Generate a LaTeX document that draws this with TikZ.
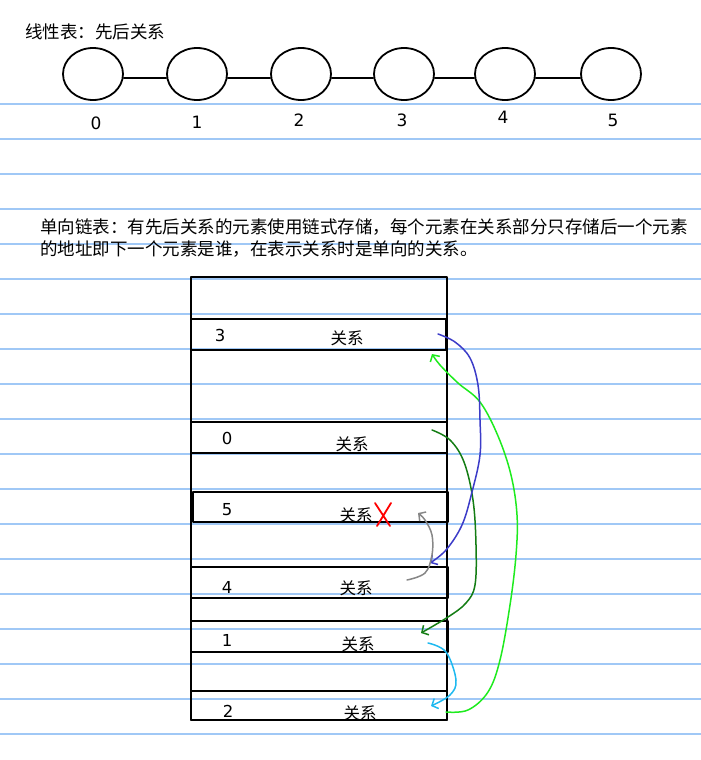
\documentclass[tikz,border=0pt]{standalone}
\usepackage{fontspec}
\setmainfont{DejaVu Sans}
\newfontfamily\cjk{Noto Sans CJK SC}
\usetikzlibrary{arrows.meta,shapes.geometric,positioning}
\definecolor{paperblue}{RGB}{160,200,246}
\definecolor{linkblue}{RGB}{60,60,200}
\definecolor{linkdkgreen}{RGB}{20,125,20}
\definecolor{linkcyan}{RGB}{30,185,240}
\definecolor{linkgreen}{RGB}{30,235,30}
\definecolor{linkgray}{RGB}{135,135,135}
\tikzset{
  elem/.style={draw, ellipse, line width=1.8pt, minimum width=60pt, minimum height=52pt, inner sep=0pt},
  cell/.style={draw, line width=2pt, inner sep=0pt},
  idx/.style={font=\fontsize{16.5}{18}\selectfont, inner sep=0pt},
  rel/.style={font=\cjk\fontsize{16.5}{18}\selectfont, inner sep=0pt},
  words/.style={font=\cjk\fontsize{17.5}{20}\selectfont, inner sep=0pt, anchor=west},
  hand/.style={line width=1.5pt, -{Straight Barb[length=5pt,width=11pt]}},
}
\begin{document}
\begin{tikzpicture}[x=1pt,y=-1pt,line cap=round,line join=round]
  \useasboundingbox (0,0) rectangle (701,760);
  % ruled paper
  \foreach \r in {104,139,...,734}
    \draw [paperblue, line width=1.1pt] (0,\r) -- (701,\r);

  % linear list
  \node[words] (title) at (25,32) {线性表：先后关系};
  \foreach \i/\x in {0/93,1/197,2/301,3/404,4/505,5/611}
    \node[elem] (c\i) at (\x,74) {};
  \foreach \i/\j in {0/1,1/2,2/3,3/4,4/5}
    \draw [line width=1.8pt] ([yshift=-4pt]c\i.east) -- ([yshift=-4pt]c\j.west);
  \foreach \i/\x/\y in {0/96/123,1/197/122,2/299/120,3/402/120,4/503/117,5/613/120}
    \node[idx, font=\fontsize{17}{19}\selectfont] (n\i) at (\x,\y) {\i};

  % description
  \node[words] (line1) at (40,227) {单向链表：有先后关系的元素使用链式存储，每个元素在关系部分只存储后一个元素};
  \node[words] (line2) at (40,249) {的地址即下一个元素是谁，在表示关系时是单向的关系。};

  % memory
  \node[cell, minimum width=256pt, minimum height=443pt] (mem) at (318.5,498.5) {};
  \foreach \k/\cx/\cy/\w/\h in {3/318/334.5/255/31, 0/318.5/437.5/256/31, 5/320.5/507/255/30,
                                4/319.5/582.5/257/31, 1/319.5/636.5/257/31, 2/318.5/705.5/256/29}
    \node[cell, minimum width=\w pt, minimum height=\h pt] (b\k) at (\cx,\cy) {};
  \foreach \k/\nx/\ny/\rx/\ry in {3/220/335/347/338, 0/227/438/352/444, 5/227/510/356/515,
                                  4/227/587/356/588, 1/227/640/358/644, 2/228/711/360/713}
  {
    \node[idx] (k\k) at (\nx,\ny) {\k};
    \node[rel] (r\k) at (\rx,\ry) {关系};
  }
  % end of the list
  \draw [red, line width=1.8pt] (375,503) -- (390,526) (391,503) -- (377,526);

  % links
  \coordinate (s0) at (432,430);  \coordinate (e1) at (421,633);
  \coordinate (s1) at (428,643);  \coordinate (e2) at (431,706);
  \coordinate (s2) at (446,712);  \coordinate (e3) at (432,354);
  \coordinate (s3) at (438,334);  \coordinate (e4) at (430,563);
  \coordinate (s4) at (407,580);  \coordinate (e5) at (418,513);
  \draw [hand, linkdkgreen] plot [smooth, tension=0.6] coordinates
    {(s0) (450,440) (464,462) (473,500) (476,545) (475,585) (466,603) (448,617) (e1)};
  \draw [hand, linkcyan] plot [smooth, tension=0.6] coordinates
    {(s1) (446,652) (456,680) (450,695) (e2)};
  \draw [hand, linkgreen] plot [smooth, tension=0.6] coordinates
    {(s2) (468,710) (488,692) (500,660) (510,605) (516,555) (517,515) (511,475) (498,436) (480,402) (458,383) (440,365) (e3)};
  \draw [hand, linkblue] plot [smooth, tension=0.6] coordinates
    {(s3) (455,342) (470,358) (478,385) (480,420) (480,455) (472,492) (462,525) (446,550) (e4)};
  \draw [hand, linkgray] plot [smooth, tension=0.6] coordinates
    {(s4) (425,573) (432,555) (432,535) (425,520) (e5)};
\end{tikzpicture}
\end{document}
